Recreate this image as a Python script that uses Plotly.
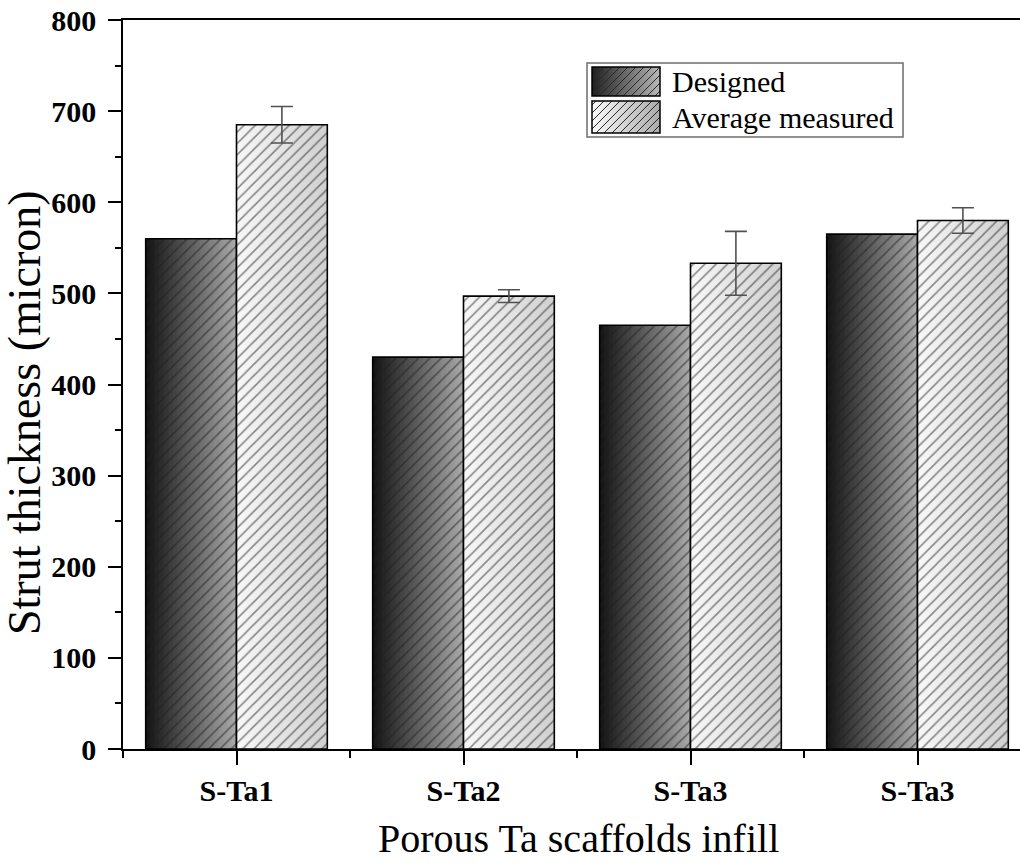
import plotly.graph_objects as go

# ---------------- data ----------------
categories = ["S-Ta1", "S-Ta2", "S-Ta3", "S-Ta3"]
designed = [560, 430, 465, 565]
measured = [685, 497, 533, 580]
measured_err = [20, 7, 35, 14]
y_ticks = [0, 100, 200, 300, 400, 500, 600, 700, 800]
series_names = ["Designed", "Average measured"]

positions = list(range(1, len(categories) + 1))

# ---------------- geometry helpers (layout only) ----------------
W, H = 1020, 863
L, T, B, R = 123, 20, 114, 0
PW = W - L - R
PH = H - T - B
UNIT_PX = 227.0  # pixels per category slot


def px(X):
    return (X - L) / PW


def py(Y):
    return (H - B - Y) / PH


BAR_W = 0.4
N_SLICES = 91

fig = go.Figure()


def gray(level):
    level = int(round(max(0, min(255, level))))
    return f"rgb({level},{level},{level})"


def add_gradient_bar(values, offset0, c_left, c_right, name, err=None):
    step = BAR_W / N_SLICES
    for i in range(N_SLICES):
        t = (i + 0.5) / N_SLICES
        lvl = c_left + (c_right - c_left) * t
        w = step * 2.0 if i < N_SLICES - 1 else step
        fig.add_trace(go.Bar(
            x=positions, y=values, width=w,
            offset=offset0 + i * step,
            marker=dict(color=gray(lvl), line=dict(width=0)),
            showlegend=False, hoverinfo="skip",
        ))
    kw = {}
    if err is not None:
        kw["error_y"] = dict(type="data", array=err, visible=True,
                             color="#505050", thickness=1.6, width=11)
    fig.add_trace(go.Bar(
        x=positions, y=values, width=BAR_W, offset=offset0, name=name,
        marker=dict(
            color="rgba(0,0,0,0)",
            line=dict(color="black", width=1.6),
            pattern=dict(shape="/", fgcolor="#1e1e1e",
                         bgcolor="rgba(0,0,0,0)", size=8, solidity=0.2,
                         fillmode="overlay"),
        ),
        showlegend=False, **kw,
    ))


add_gradient_bar(designed, -BAR_W, 18, 170, series_names[0])
add_gradient_bar(measured, 0.0, 248, 208, series_names[1], err=measured_err)

x_max = 0.5 + PW / UNIT_PX

fig.update_layout(
    width=W, height=H,
    margin=dict(l=L, r=R, t=T, b=B, pad=0),
    paper_bgcolor="white", plot_bgcolor="white",
    barmode="overlay", showlegend=False,
    font=dict(family="Liberation Serif", color="black"),
    xaxis=dict(
        range=[0.5, x_max], tickmode="array", tickvals=positions,
        ticktext=categories, ticks="outside", ticklen=14, tickwidth=1.6,
        tickcolor="black", showline=True, linecolor="black", linewidth=1.6,
        mirror=True, showgrid=False, zeroline=False,
        tickfont=dict(family="Liberation Serif", size=30, color="black",
                      weight="bold"),
        minor=dict(tickmode="linear", tick0=0.5, dtick=1, ticks="outside",
                   ticklen=7, tickwidth=1.6, tickcolor="black",
                   showgrid=False),
    ),
    yaxis=dict(
        range=[0, 800], tickmode="array", tickvals=y_ticks,
        ticks="outside", ticklen=13, tickwidth=1.6, tickcolor="black",
        showline=True, linecolor="black", linewidth=1.6, mirror=False,
        showgrid=False, zeroline=False, ticklabelstandoff=6,
        tickfont=dict(family="Liberation Serif", size=30, color="black",
                      weight="bold"),
        minor=dict(tickmode="linear", tick0=0, dtick=50, ticks="outside",
                   ticklen=6, tickwidth=1.6, tickcolor="black",
                   showgrid=False),
    ),
)

annotations = [
    dict(text="Porous Ta scaffolds infill", x=px(578), y=py(838),
         xref="paper", yref="paper", xanchor="center", yanchor="middle",
         showarrow=False,
         font=dict(family="Liberation Serif", size=40, color="black")),
    dict(text="Strut thickness (micron)", x=px(24), y=py(413),
         xref="paper", yref="paper", xanchor="center", yanchor="middle",
         textangle=-90, showarrow=False,
         font=dict(family="Liberation Serif", size=46, color="black")),
]

# ---------------- manual legend ----------------
shapes = []
shapes.append(dict(type="rect", xref="paper", yref="paper",
                   x0=px(587), x1=px(903), y0=py(63), y1=py(137),
                   line=dict(color="#6e6e6e", width=1.5),
                   fillcolor="white", layer="above"))

swatches = [
    (592, 660, 67, 96, 30, 185, series_names[0], 81),
    (592, 660, 101, 133, 250, 170, series_names[1], 117),
]
for (x0, x1, y0, y1, cl, cr, label, ty) in swatches:
    n = 34
    stepx = (x1 - x0) / n
    for i in range(n):
        t = (i + 0.5) / n
        xe = x0 + (i + 1.5) * stepx if i < n - 1 else x1
        shapes.append(dict(type="rect", xref="paper", yref="paper",
                           x0=px(x0 + i * stepx), x1=px(xe),
                           y0=py(y0), y1=py(y1), line=dict(width=0),
                           fillcolor=gray(cl + (cr - cl) * t), layer="above"))
    sp = 8
    c = x0 + y0 + 4
    while c < x1 + y1:
        xa = max(x0, c - y1)
        xb = min(x1, c - y0)
        if xb > xa:
            shapes.append(dict(type="line", xref="paper", yref="paper",
                               x0=px(xa), y0=py(c - xa), x1=px(xb), y1=py(c - xb),
                               line=dict(color="#2a2a2a", width=1), layer="above"))
        c += sp
    shapes.append(dict(type="rect", xref="paper", yref="paper",
                       x0=px(x0), x1=px(x1), y0=py(y0), y1=py(y1),
                       line=dict(color="black", width=1.5), layer="above"))
    annotations.append(dict(text=label, x=px(670), y=py(ty), xref="paper",
                            yref="paper", xanchor="left", yanchor="middle",
                            showarrow=False,
                            font=dict(family="Liberation Serif", size=30,
                                      color="black")))

fig.update_layout(shapes=shapes, annotations=annotations)

fig.write_html("out.html")
